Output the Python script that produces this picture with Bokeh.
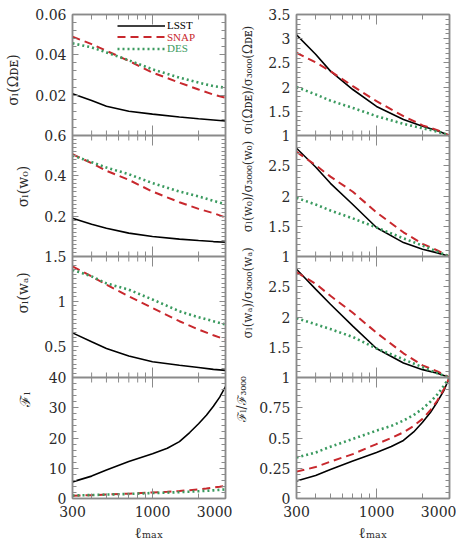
import numpy as np
from bokeh.plotting import figure
from bokeh.models import (Range1d, LinearAxis, LogAxis, FixedTicker, Span,
                          Legend, LegendItem, CustomJSTickFormatter)
from bokeh.core.properties import value
from bokeh.layouts import row
from bokeh.embed import file_html
from bokeh.resources import INLINE

# ---------------- data ----------------
ell = [300, 400, 500, 700, 1000, 1500, 2000, 2500, 3000]
ell_f = [300, 400, 500, 700, 1000, 1250, 1500, 1750, 2000, 2250, 2500, 2750, 3000]

# sigma_l(Omega_DE)
om_lsst = [0.0207, 0.0173, 0.0145, 0.0120, 0.0106, 0.0092, 0.0083, 0.0077, 0.0072]
om_snap = [0.0490, 0.0453, 0.0420, 0.0370, 0.0312, 0.0262, 0.0228, 0.0203, 0.0187]
om_des = [0.0457, 0.0437, 0.0412, 0.0373, 0.0328, 0.0287, 0.0262, 0.0245, 0.0237]
# sigma_l(w0)
w0_lsst = [0.190, 0.160, 0.140, 0.116, 0.099, 0.086, 0.079, 0.074, 0.071]
w0_snap = [0.507, 0.463, 0.425, 0.380, 0.322, 0.269, 0.236, 0.215, 0.193]
w0_des = [0.501, 0.468, 0.441, 0.408, 0.364, 0.322, 0.298, 0.276, 0.259]
# sigma_l(wa)
wa_lsst = [0.648, 0.548, 0.474, 0.389, 0.326, 0.286, 0.262, 0.241, 0.230]
wa_snap = [1.389, 1.278, 1.185, 1.056, 0.926, 0.778, 0.685, 0.622, 0.574]
wa_des = [1.352, 1.278, 1.200, 1.130, 1.020, 0.889, 0.822, 0.778, 0.741]
# F_l (sampled on ell_f)
f_lsst = [5.5, 7.4, 9.4, 12.2, 14.8, 16.6, 18.8, 21.8, 24.7, 27.5, 30.5, 33.5, 37.0]
f_snap = [0.95, 1.1, 1.3, 1.6, 2.0, 2.25, 2.5, 2.75, 3.0, 3.3, 3.6, 3.9, 4.2]
f_des = [1.0, 1.15, 1.3, 1.5, 1.8, 1.95, 2.1, 2.25, 2.4, 2.55, 2.7, 2.85, 3.0]

# ratios to l_max = 3000
rom_lsst = [3.08, 2.68, 2.33, 1.95, 1.60, 1.33, 1.19, 1.10, 1.0]
rom_snap = [2.71, 2.51, 2.33, 2.02, 1.71, 1.40, 1.21, 1.11, 1.0]
rom_des = [2.00, 1.85, 1.72, 1.57, 1.40, 1.24, 1.15, 1.08, 1.0]
rw0_lsst = [2.79, 2.48, 2.21, 1.86, 1.48, 1.23, 1.12, 1.06, 1.0]
rw0_snap = [2.73, 2.51, 2.32, 2.07, 1.73, 1.40, 1.21, 1.10, 1.0]
rw0_des = [1.97, 1.86, 1.76, 1.63, 1.48, 1.30, 1.18, 1.08, 1.0]
rwa_lsst = [2.79, 2.46, 2.21, 1.85, 1.48, 1.24, 1.13, 1.07, 1.0]
rwa_snap = [2.74, 2.55, 2.35, 2.07, 1.74, 1.40, 1.20, 1.10, 1.0]
rwa_des = [1.98, 1.88, 1.80, 1.67, 1.48, 1.30, 1.17, 1.07, 1.0]
# F ratio (sampled on ell_f)
rf_lsst = [0.144, 0.19, 0.24, 0.31, 0.38, 0.43, 0.48, 0.55, 0.63, 0.71, 0.80, 0.89, 1.0]
rf_snap = [0.222, 0.26, 0.305, 0.367, 0.45, 0.50, 0.547, 0.60, 0.658, 0.73, 0.81, 0.90, 1.0]
rf_des = [0.338, 0.38, 0.428, 0.492, 0.561, 0.60, 0.644, 0.69, 0.742, 0.80, 0.86, 0.93, 1.0]

survey_names = ["LSST", "SNAP", "DES"]

# tick values / labels
x_tick_values = [300, 1000, 3000]
x_tick_labels = ["300", "1000", "3000"]
x_minor_values = [400, 500, 600, 700, 800, 900, 2000]

om_ticks = [0.02, 0.04, 0.06]
om_tick_labels = ["0.02", "0.04", "0.06"]
w0_ticks = [0.2, 0.4, 0.6]
w0_tick_labels = ["0.2", "0.4", "0.6"]
wa_ticks = [0.5, 1.0, 1.5]
wa_tick_labels = ["0.5", "1", "1.5"]
f_ticks = [0, 10, 20, 30, 40]
f_tick_labels = ["0", "10", "20", "30", "40"]

rom_ticks = [1, 1.5, 2, 2.5, 3, 3.5]
rom_tick_labels = ["1", "1.5", "2", "2.5", "3", "3.5"]
rw_ticks = [1, 1.5, 2, 2.5]
rw_tick_labels = ["1", "1.5", "2", "2.5"]
rf_ticks = [0, 0.25, 0.5, 0.75]
rf_tick_labels = ["0", "0.25", "0.5", "0.75"]

left_titles = ["σₗ(Ωᴅᴇ)", "σₗ(w₀)", "σₗ(wₐ)", "ℱₗ"]
right_titles = ["σₗ(Ωᴅᴇ)/σ₃₀₀₀(Ωᴅᴇ)", "σₗ(w₀)/σ₃₀₀₀(w₀)",
                "σₗ(wₐ)/σ₃₀₀₀(wₐ)", "ℱₗ/ℱ₃₀₀₀"]

# ---------------- styling / layout ----------------
C_LSST = "#000000"
C_SNAP = "#c8282d"
C_DES = "#3a9a5f"
GRAY = "#8a8a8a"
FONT = "DejaVu Serif"
TXT = "#2a2a2a"

NP = 4
FRAME_TOP = 14
FRAME_H = 484
PX_PER_PANEL = FRAME_H / NP


def title_fig(width, xs, titles, size):
    h = FRAME_TOP + FRAME_H
    t = figure(width=width, height=h, x_range=Range1d(0, width),
               y_range=Range1d(0, NP + FRAME_TOP / PX_PER_PANEL),
               x_axis_location=None, y_axis_location=None,
               output_backend="svg", toolbar_location=None,
               min_border=0)
    t.grid.visible = False
    t.outline_line_color = None
    ys = [NP - 1 - k + 0.5 for k in range(NP)]
    t.text(x=xs, y=ys, text=titles, angle=np.pi / 2, text_align="center",
           text_baseline="middle", text_font=value(FONT),
           text_font_size=value(size), text_color=TXT)
    return t


def build(panels, legend=False):
    p = figure(frame_width=153, frame_height=FRAME_H, x_axis_type="log",
               x_range=Range1d(300, 3000), y_range=Range1d(0, NP),
               output_backend="svg", toolbar_location=None,
               min_border_left=38, min_border_right=7, min_border_top=FRAME_TOP,
               min_border_bottom=40)
    p.grid.visible = False
    p.outline_line_color = GRAY
    p.outline_line_width = 1.5

    major_pos, minor_pos, overrides = [], [], {}
    renderers = []
    for k, pan in enumerate(panels):
        lo, hi = pan["range"]
        span = hi - lo
        base = (NP - 1 - k)
        name = "p%d" % k
        p.extra_y_ranges[name] = Range1d(lo - base * span, hi + k * span)
        for v, lab in zip(pan["ticks"], pan["labels"]):
            pos = round(base + (v - lo) / span, 9)
            if pos not in overrides:
                major_pos.append(pos)
                overrides[pos] = lab
        n = int(round(span / pan["minor"]))
        for i in range(n + 1):
            minor_pos.append(round(base + i * pan["minor"] / span, 9))
        xs = pan["x"]
        r1 = p.line(xs, pan["data"][0], y_range_name=name, line_color=C_LSST,
                    line_width=1.6)
        r2 = p.line(xs, pan["data"][1], y_range_name=name, line_color=C_SNAP,
                    line_width=2, line_dash="8 5")
        r3 = p.line(xs, pan["data"][2], y_range_name=name, line_color=C_DES,
                    line_width=2.6, line_dash="2 3")
        if k == 0:
            renderers = [r1, r2, r3]

    yt = FixedTicker(ticks=major_pos, minor_ticks=minor_pos)
    xt = FixedTicker(ticks=x_tick_values, minor_ticks=x_minor_values)
    blank = CustomJSTickFormatter(code="return ''")

    def style(ax, labels=True):
        ax.axis_line_color = GRAY
        ax.axis_line_width = 1.5
        ax.major_tick_line_color = GRAY
        ax.minor_tick_line_color = GRAY
        ax.major_tick_out = 0
        ax.minor_tick_out = 0
        ax.major_label_text_font = FONT
        ax.major_label_text_color = TXT
        ax.major_label_text_font_size = "14px"
        if not labels:
            ax.formatter = blank
            ax.major_label_standoff = 0

    yl = p.yaxis[0]
    yl.ticker = yt
    yl.major_label_overrides = overrides
    yl.major_tick_in = 6
    yl.minor_tick_in = 4
    yl.major_label_standoff = 6
    style(yl)

    xb = p.xaxis[0]
    xb.ticker = xt
    xb.major_label_overrides = dict(zip(x_tick_values, x_tick_labels))
    xb.major_tick_in = 10
    xb.minor_tick_in = 5
    xb.major_label_standoff = 7
    style(xb)
    xb.axis_label = "ℓₘₐₓ"
    xb.axis_label_text_font = FONT
    xb.axis_label_text_font_style = "normal"
    xb.axis_label_text_font_size = "15px"
    xb.axis_label_text_color = TXT
    xb.axis_label_standoff = 4

    yr = LinearAxis(ticker=yt, major_tick_in=6, minor_tick_in=4)
    style(yr, labels=False)
    p.add_layout(yr, "right")
    xa = LogAxis(ticker=xt, major_tick_in=10, minor_tick_in=5)
    style(xa, labels=False)
    p.add_layout(xa, "above")

    # panel separators with inward x ticks on both sides
    for b in range(1, NP):
        p.add_layout(Span(location=b, dimension="width", line_color=GRAY, line_width=2))
        for ang in (np.pi / 2, -np.pi / 2):
            p.ray(x=x_minor_values, y=[b] * len(x_minor_values), length=5, angle=ang,
                  length_units="screen", line_color=GRAY, line_width=1)
            p.ray(x=[1000], y=[b], length=10, angle=ang, length_units="screen",
                  line_color=GRAY, line_width=1)

    if legend:
        cols = [C_LSST, C_SNAP, C_DES]
        ys = [467, 455.5, 444]
        for r, nm, c, yy in zip(renderers, survey_names, cols, ys):
            lg = Legend(items=[LegendItem(label=nm, renderers=[r])], location=(45, yy),
                        glyph_width=48, glyph_height=11, label_height=11,
                        label_standoff=2, padding=0, margin=0, spacing=0,
                        label_text_font="Liberation Serif", label_text_font_size="11px",
                        label_text_color=c, background_fill_alpha=0,
                        border_line_alpha=0)
            p.add_layout(lg)
    return p


left_panels = [
    dict(range=(0, 0.06), ticks=om_ticks, labels=om_tick_labels, minor=0.004,
         x=ell, data=(om_lsst, om_snap, om_des)),
    dict(range=(0, 0.6), ticks=w0_ticks, labels=w0_tick_labels, minor=0.02,
         x=ell, data=(w0_lsst, w0_snap, w0_des)),
    dict(range=(0.15, 1.5), ticks=wa_ticks, labels=wa_tick_labels, minor=0.05,
         x=ell, data=(wa_lsst, wa_snap, wa_des)),
    dict(range=(0, 40), ticks=f_ticks, labels=f_tick_labels, minor=2,
         x=ell_f, data=(f_lsst, f_snap, f_des)),
]
right_panels = [
    dict(range=(1, 3.5), ticks=rom_ticks, labels=rom_tick_labels, minor=0.1,
         x=ell, data=(rom_lsst, rom_snap, rom_des)),
    dict(range=(1, 3), ticks=rw_ticks, labels=rw_tick_labels, minor=0.1,
         x=ell, data=(rw0_lsst, rw0_snap, rw0_des)),
    dict(range=(1, 3), ticks=rw_ticks, labels=rw_tick_labels, minor=0.1,
         x=ell, data=(rwa_lsst, rwa_snap, rwa_des)),
    dict(range=(0, 1), ticks=rf_ticks, labels=rf_tick_labels, minor=0.05,
         x=ell_f, data=(rf_lsst, rf_snap, rf_des)),
]

tl = title_fig(32, [12, 22, 22, 24], left_titles, "14px")
pl = build(left_panels, legend=True)
tr = title_fig(24, [15, 15, 15, 9], right_titles, "12px")
pr = build(right_panels)

layout = row(tl, pl, tr, pr)
open("out.html", "w").write(file_html(layout, INLINE))
